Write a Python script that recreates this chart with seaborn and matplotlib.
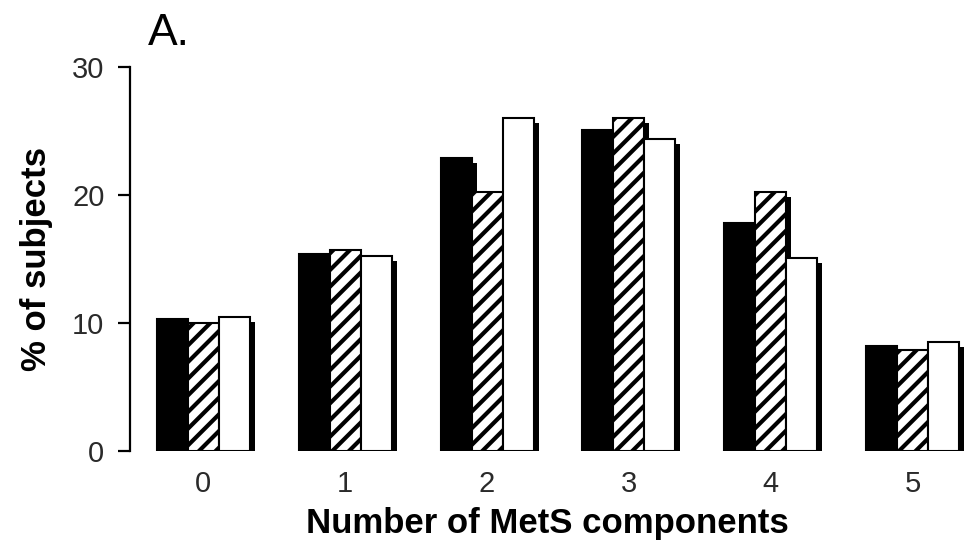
import matplotlib
matplotlib.use("Agg")
import matplotlib.pyplot as plt
import matplotlib.patheffects as pe
import seaborn as sns
import pandas as pd

# values (% of subjects)
components = ["0", "1", "2", "3", "4", "5"]
series_black = [10.3, 15.4, 22.9, 25.1, 17.8, 8.2]
series_hatched = [10.0, 15.7, 20.2, 26.0, 20.2, 7.9]
series_white = [10.5, 15.2, 26.0, 24.4, 15.1, 8.5]
series_names = ["black", "hatched", "white"]
y_ticks = [0, 10, 20, 30]

rows = []
for name, vals in zip(series_names, [series_black, series_hatched, series_white]):
    for c, v in zip(components, vals):
        rows.append({"components": c, "pct": v, "group": name})
df = pd.DataFrame(rows)

sns.set_style("white")
plt.rcParams['font.family'] = ['Liberation Sans', 'DejaVu Sans']
plt.rcParams['hatch.linewidth'] = 3.0
plt.rcParams['hatch.color'] = 'black'

fig = plt.figure(figsize=(9.64, 5.56), dpi=100)
ax = fig.add_axes([0.135, 0.189, 0.865, 0.6905])

sns.barplot(data=df, x="components", y="pct", hue="group",
            palette=["black", "white", "white"], saturation=1,
            width=0.655, edgecolor="black", linewidth=1.5,
            legend=False, ax=ax)

shadow = [pe.SimplePatchShadow(offset=(3.6, -3.6), shadow_rgbFace="black", alpha=1.0), pe.Normal()]
for i, cont in enumerate(ax.containers):
    for bar in cont:
        bar.set_path_effects(shadow)
        if i == 1:
            bar.set_hatch("//")

ax.set_xlim(-0.514, 5.36)
ax.set_ylim(0, 30)
ax.set_yticks(y_ticks)

for s in ["top", "right", "bottom"]:
    ax.spines[s].set_visible(False)
ax.spines["left"].set_linewidth(1.6)
ax.spines["left"].set_color("black")

ax.tick_params(axis="y", direction="out", length=8.5, width=1.6, color="black",
               labelsize=21, labelcolor="#2a2a2a", pad=10, left=True)
ax.tick_params(axis="x", length=0, labelsize=21, labelcolor="#2a2a2a", pad=14)

ax.set_xlabel("Number of MetS components", fontsize=25, fontweight="bold", labelpad=6, color="black")
ax.set_ylabel("% of subjects", fontsize=25, fontweight="bold", labelpad=14, color="black")

fig.text(0.153, 0.919, "A.", fontsize=32, color="black")

fig.savefig("out.png", dpi=100)
